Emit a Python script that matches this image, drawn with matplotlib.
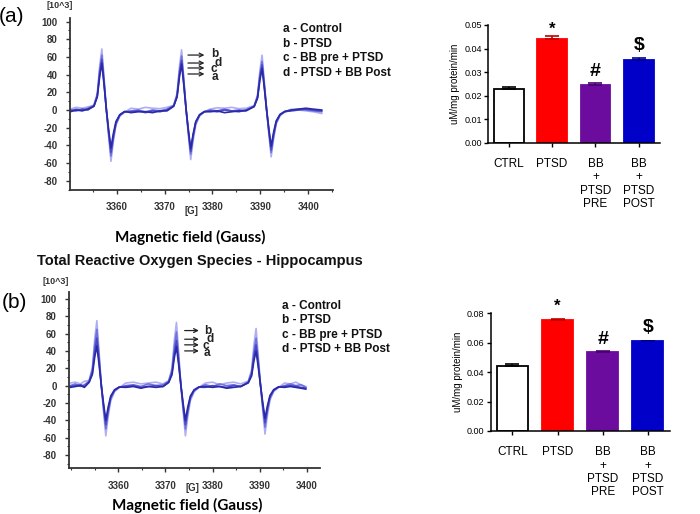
import numpy as np
import matplotlib
matplotlib.use('Agg')
import matplotlib.pyplot as plt
from matplotlib.ticker import MultipleLocator

plt.rcParams['font.family'] = ['Liberation Sans', 'DejaVu Sans']

# ---------------- EPR spectra ----------------
field_a = [3350.3, 3351.5, 3352.8, 3354.0,
           3355.25, 3355.95, 3356.45, 3356.9, 3357.35, 3357.85, 3358.3, 3358.8, 3359.3, 3359.85, 3360.65, 3361.65,
           3363, 3364.5, 3366, 3367.5, 3369, 3370.5,
           3371.9, 3372.6, 3373.1, 3373.55, 3374.0, 3374.5, 3374.95, 3375.45, 3375.95, 3376.5, 3377.3, 3378.3,
           3379.5, 3381, 3382.5, 3384, 3385.5, 3387,
           3388.7, 3389.4, 3389.9, 3390.35, 3390.8, 3391.3, 3391.75, 3392.25, 3392.75, 3393.3, 3394.1, 3395.1,
           3396.5, 3398, 3399.5, 3401, 3402.8]

ptsd_a = [1, 3, 2, 3.5,
          5.5, 19, 50, 69, 38, 0, -29, -58, -36, -17, -7, -2.5,
          2, 1, 3, 2, 1.5, 3,
          5.4, 19, 49, 68, 37, 0, -28, -56, -35, -17, -7, -2,
          1, 2.5, 2, 3, 1.5, 2,
          5, 17, 45, 62, 34, 0, -26.5, -53, -33, -16, -6.4, -2,
          1, 0, -1, -2, -4]
post_a = [-1, 1, 0, 2,
          5, 17, 45, 62, 34, 0, -26, -52, -32, -16, -6, -2,
          -1, 0, -2, 0, -1, 1,
          4.9, 17, 44, 61, 33.5, 0, -25, -50, -31, -15, -6, -2,
          0, -1, 1, -1, 0, -0.5,
          4.4, 15.4, 40, 55, 30, 0, -24, -48, -30, -14.4, -5.8, -2,
          0, 1, 0, -1, -2]
pre_a = [0, -1, 1, 0,
         4.6, 16, 41, 57, 31, 0, -24, -48, -30, -14.4, -5.8, -2,
         -2, -1, -3, -1, -2, 0,
         4.5, 15.7, 40, 56, 31, 0, -23.5, -47, -29, -14, -5.6, -2,
         -1, -2, 0, -1, -2, 0,
         4.1, 14.3, 36.7, 51, 28, 0, -22.5, -45, -28, -13.5, -5.4, -1.8,
         -1, 0, 1, 0, -1]
ctrl_a = [-2, 0, -1, 1,
          4.2, 14.8, 38, 53, 29, 0, -21.5, -43, -26.7, -13, -5.2, -1.7,
          -3, -2, -2, -3, -1, -1,
          4.2, 14.6, 37.4, 52, 28.6, 0, -22, -44, -27.3, -13.2, -5.3, -1.8,
          -2, -1, -3, -2, -1, -1,
          3.8, 13.2, 33.8, 47, 25.9, 0, -20.5, -41, -25.4, -12.3, -4.9, -1.6,
          0, 1, 2, 1, 0]

field_b = [3349.8, 3350.9, 3352, 3352.8,
           3353.8, 3354.5, 3355.0, 3355.45, 3355.9, 3356.4, 3356.85, 3357.35, 3357.85, 3358.4, 3359.2, 3360.2,
           3361.6, 3363.2, 3364.8, 3366.4, 3368, 3369.5,
           3370.7, 3371.4, 3371.9, 3372.35, 3372.8, 3373.3, 3373.75, 3374.25, 3374.75, 3375.3, 3376.1, 3377.1,
           3378.5, 3380, 3381.5, 3383, 3384.5, 3386,
           3387.6, 3388.3, 3388.8, 3389.25, 3389.7, 3390.2, 3390.65, 3391.15, 3391.65, 3392.2, 3393.0, 3394.0,
           3395.3, 3396.5, 3397.7, 3398.8, 3399.8]

ptsd_b = [3, 4, 2, 5,
          6, 21, 54, 75, 41, 0, -29, -58, -36, -17.4, -7, -2.3,
          3, 4, 2, 3, 4, 2,
          5.8, 20.4, 52.6, 73, 40, 0, -29, -58, -36, -17.4, -7, -2.3,
          3, 4, 1, 3, 4, 2,
          5.3, 18.5, 47.5, 66, 36, 0, -28, -56, -34.7, -16.8, -6.7, -2.2,
          3, 2, 4, 1, -1]
post_b = [0, 2, -1, 1,
          5.2, 18.2, 46.8, 65, 35.7, 0, -25, -50, -31, -15, -6, -2,
          0, 1, -1, 2, 0, 1,
          5, 17.4, 44.6, 62, 34, 0, -25, -50, -31, -15, -6, -2,
          1, -1, 2, 0, 1, -1,
          4.4, 15.4, 39.6, 55, 30, 0, -24, -48, -29.8, -14.4, -5.8, -1.9,
          0, 2, 0, 1, -2]
pre_b = [-1, 0, 1, -1,
         4.4, 15.4, 39.6, 55, 30, 0, -22.5, -45, -28, -13.5, -5.4, -1.8,
         -1, 0, -2, -1, 0, -1,
         4.2, 14.6, 37.4, 52, 28.6, 0, -22.5, -45, -28, -13.5, -5.4, -1.8,
         -2, 0, -1, -2, 0, -1,
         3.8, 13.2, 33.8, 47, 25.9, 0, -21.5, -43, -26.7, -12.9, -5.2, -1.7,
         -1, 0, -1, -2, -3]
ctrl_b = [-2, -1, 0, -2,
          3.7, 12.9, 33, 46, 25.3, 0, -20, -40, -24.8, -12, -4.8, -1.6,
          -2, -1, -3, -1, -2, -1,
          3.6, 12.6, 32.4, 45, 24.8, 0, -20, -40, -24.8, -12, -4.8, -1.6,
          -1, -2, -1, -3, -2, -1,
          3.2, 11.2, 28.8, 40, 22, 0, -19, -38, -23.6, -11.4, -4.6, -1.5,
          -2, -1, -2, -3, -4]

trace_colors = ['#aeaef2', '#7272de', '#4848c8', '#2a2aa8']
legend_lines = ['a - Control', 'b - PTSD', 'c - BB pre + PTSD', 'd - PTSD + BB Post']
field_ticks = [3360, 3370, 3380, 3390, 3400]
signal_ticks = [-80, -60, -40, -20, 0, 20, 40, 60, 80, 100]

# ---------------- bar data ----------------
groups = ['CTRL', 'PTSD', 'BB\n+\nPTSD\nPRE', 'BB\n+\nPTSD\nPOST']
ros_a = [0.0227, 0.0441, 0.0246, 0.0352]
err_a = [0.0008, 0.0013, 0.0006, 0.0009]
ros_b = [0.0445, 0.0756, 0.0538, 0.0611]
err_b = [0.0010, 0.0004, 0.0006, 0.0004]
marks = ['', '*', '#', '$']
mark_y_a = [0, 0.0481, 0.0302, 0.0411]
mark_y_b = [0, 0.0845, 0.0619, 0.0705]
bar_face = ['white', '#ff0000', '#6c0c9e', '#0000c8']
bar_edge = ['black', '#ff0000', '#6c0c9e', '#0000c8']
err_col = ['black', '#c00000', '#4a0070', '#000090']

fig = plt.figure(figsize=(7, 5.14), dpi=100)


def epr_panel(rect, field, traces, xlim, ylim, arrow_x, arrow_y, lab_pos):
    ax = fig.add_axes(rect)
    for y, c in zip(traces, trace_colors):
        ax.plot(field, y, color=c, lw=1.2)
    ax.set_xlim(*xlim)
    ax.set_ylim(*ylim)
    for s in ['top', 'right']:
        ax.spines[s].set_visible(False)
    for s in ['left', 'bottom']:
        ax.spines[s].set_color('#333333')
        ax.spines[s].set_linewidth(1.3)
    ax.set_xticks(field_ticks, labels=[str(v) for v in field_ticks],
                  fontsize=7, fontweight='bold', color='#333333')
    ax.set_yticks(signal_ticks, labels=[str(v) for v in signal_ticks],
                  fontsize=7, fontweight='bold', color='#333333')
    ax.xaxis.set_minor_locator(MultipleLocator(5))
    ax.yaxis.set_minor_locator(MultipleLocator(10))
    ax.tick_params(which='major', length=3, width=1, color='#333333', pad=6)
    ax.tick_params(which='minor', length=1.5, width=0.8, color='#333333')
    # arrows b, d, c, a
    for (yy, (lx, ly, lt)) in zip(arrow_y, lab_pos):
        ax.annotate('', xy=(arrow_x[1], yy), xytext=(arrow_x[0], yy),
                    arrowprops=dict(arrowstyle='->', color='#222222', lw=0.9,
                                    mutation_scale=7))
        ax.text(lx, ly, lt, fontsize=8.5, fontweight='bold', ha='center', va='center', color='#222222')
    return ax


ax1 = epr_panel([0.1, 0.6304, 0.376, 0.3346], field_a, [ptsd_a, post_a, pre_a, ctrl_a],
                (3350.25, 3405.2), (-90.4, 104),
                (3374.3, 3378.9), [62.1, 53.1, 47.5, 40.7],
                [(3380.5, 63.3, 'b'), (3381.2, 53.4, 'd'), (3380.2, 46, 'c'), (3380.5, 37, 'a')])
ax3 = epr_panel([0.099, 0.0889, 0.358, 0.3436], field_b, [ptsd_b, post_b, pre_b, ctrl_b],
                (3349.6, 3402.8), (-95.5, 108.5),
                (3373.5, 3377.7), [63.6, 53.6, 47.1, 40.1],
                [(3379.0, 63.6, 'b'), (3379.6, 53.6, 'd'), (3378.6, 45.9, 'c'), (3378.9, 37.5, 'a')])


# figure texts (positions in pixels of a 700x514 canvas)
def ftext(px, py, s, **kw):
    fig.text(px / 700, 1 - py / 514, s, **kw)


ftext(12, 17, '(a)', fontsize=15, ha='center', va='center')
ftext(14, 303, '(b)', fontsize=15, ha='center', va='center')
ftext(60, 5, '[10^3]', fontsize=6.5, fontweight='bold', ha='center', va='center', color='#333333')
ftext(56, 282, '[10^3]', fontsize=6.5, fontweight='bold', ha='center', va='center', color='#333333')
ftext(191, 211, '[G]', fontsize=7, fontweight='bold', ha='center', va='center', color='#333333')
ftext(192, 488, '[G]', fontsize=7, fontweight='bold', ha='center', va='center', color='#333333')
ftext(190, 237, 'Magnetic field (Gauss)', fontsize=11, fontweight='bold', family='Lato',
      ha='center', va='center')
ftext(187, 505, 'Magnetic field (Gauss)', fontsize=11, fontweight='bold', family='Lato',
      ha='center', va='center')
ftext(200, 261, 'Total Reactive Oxygen Species - Hippocampus', fontsize=10.5, fontweight='bold',
      ha='center', va='center', color='#111111')
for i, s in enumerate(legend_lines):
    ftext(283, 29 + 14.7 * i, s, fontsize=8.5, fontweight='bold', ha='left', va='center', color='#111111')
    ftext(282, 305.7 + 14.5 * i, s, fontsize=8.5, fontweight='bold', ha='left', va='center', color='#111111')


def bar_panel(rect, vals, errs, ymax, step, xright, mark_y):
    ax = fig.add_axes(rect)
    x = np.arange(len(vals))
    ax.bar(x, vals, width=0.69, color=bar_face, edgecolor=bar_edge, linewidth=1.3, zorder=2)
    for xi, v, e, c in zip(x, vals, errs, err_col):
        ax.errorbar(xi, v, yerr=[[0], [e]], fmt='none', ecolor=c, elinewidth=1.2,
                    capsize=5, capthick=1.2, zorder=3)
    for xi, m, my in zip(x, marks, mark_y):
        if m:
            ax.text(xi, my, m, fontsize=14 if m != '*' else 12, fontweight='bold',
                    ha='center', va='center', clip_on=False)
    ax.set_xlim(-0.48, xright)
    ax.set_ylim(0, ymax)
    ax.set_yticks(np.arange(0, ymax + 1e-9, step))
    ax.yaxis.set_major_formatter(plt.FormatStrFormatter('%.2f'))
    ax.set_xticks(x)
    ax.set_xticklabels(groups, fontsize=8.5, linespacing=1.15)
    ax.tick_params(axis='y', labelsize=6.5, length=3, width=1, pad=1.5)
    ax.tick_params(axis='x', length=3, width=1, pad=8)
    for s in ['top', 'right']:
        ax.spines[s].set_visible(False)
    for s in ['left', 'bottom']:
        ax.spines[s].set_linewidth(1.1)
    ax.set_ylabel('uM/mg protein/min', fontsize=7, labelpad=3)
    return ax


ax2 = bar_panel([0.697, 0.7224, 0.246, 0.229], ros_a, err_a, 0.05, 0.01, 3.49, mark_y_a)
ax4 = bar_panel([0.701, 0.1615, 0.256, 0.229], ros_b, err_b, 0.08, 0.02, 3.49, mark_y_b)

fig.savefig('out.png', dpi=100)
